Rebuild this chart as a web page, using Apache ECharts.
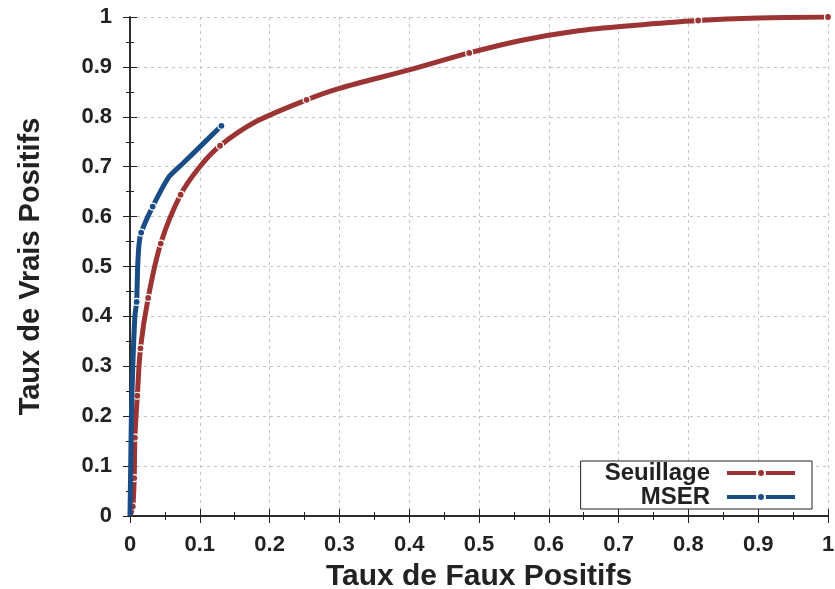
<!DOCTYPE html>
<html><head><meta charset="utf-8">
<script src="https://cdn.jsdelivr.net/npm/echarts@6/dist/echarts.min.js"></script>
<style>html,body{margin:0;padding:0;background:#fff}#c{width:835px;height:589px}</style>
</head><body><div id="c"></div>
<script>
const seuillageX = [0, 0.004, 0.006, 0.007, 0.0105, 0.015, 0.026, 0.044, 0.0725, 0.100, 0.129, 0.180, 0.253, 0.300, 0.400, 0.486, 0.560, 0.640, 0.720, 0.814, 0.900, 1.000];
const seuillageY = [0, 0.019, 0.076, 0.157, 0.241, 0.336, 0.437, 0.546, 0.644, 0.700, 0.742, 0.790, 0.834, 0.857, 0.894, 0.928, 0.953, 0.972, 0.983, 0.993, 0.998, 1.000];
const seuillageMarks = [1, 2, 3, 4, 5, 6, 7, 8, 10, 12, 15, 19, 21];
const mserX = [0, 0.001, 0.002, 0.004, 0.007, 0.0095, 0.011, 0.013, 0.016, 0.0325, 0.056, 0.076, 0.131];
const mserY = [0, 0.100, 0.200, 0.300, 0.400, 0.429, 0.500, 0.545, 0.568, 0.620, 0.680, 0.707, 0.782];
const mserMarks = [5, 8, 9, 12];
const ticks = [0, 0.1, 0.2, 0.3, 0.4, 0.5, 0.6, 0.7, 0.8, 0.9, 1];

function build(xs, ys, marks) {
  return xs.map((x, i) => marks.includes(i) ? {value: [x, ys[i]]} : {value: [x, ys[i]], symbol: 'none'});
}
const fmt = v => {
  const t = ticks.find(k => Math.abs(k - v) < 1e-9);
  return t === undefined ? '' : (t === 0 ? '0' : (t === 1 ? '1' : t.toFixed(1)));
};
const labelStyle = {fontFamily: 'Liberation Sans', fontWeight: 'bold', fontSize: 22, color: '#222'};
const axisCommon = {
  min: 0, max: 1, interval: 0.1,
  axisLine: {show: true, lineStyle: {color: '#222', width: 1.5}},
  axisTick: {show: true, inside: true, length: 7, lineStyle: {color: '#222', width: 1}},
  minorTick: {show: true, splitNumber: 2, length: -4, lineStyle: {color: '#222', width: 1}}
};
const chart = echarts.init(document.getElementById('c'));
chart.setOption({
  animation: false,
  grid: {left: 130, right: 7, top: 17, bottom: 73, containLabel: false, outerBoundsMode: 'none'},
  xAxis: [
    Object.assign({}, axisCommon, {type: 'value', position: 'bottom',
      name: 'Taux de Faux Positifs', nameLocation: 'middle', nameGap: 46,
      nameTextStyle: {fontFamily: 'Liberation Sans', fontWeight: 'bold', fontSize: 30, color: '#222'},
      axisLabel: Object.assign({margin: 18, formatter: fmt}, labelStyle),
      splitLine: {show: true, lineStyle: {color: '#c4c4c4', type: [3, 4], width: 1}}}),
    Object.assign({}, axisCommon, {type: 'value', position: 'top', axisLabel: {show: false}, splitLine: {show: false}})
  ],
  yAxis: [
    Object.assign({}, axisCommon, {type: 'value', position: 'left',
      name: 'Taux de Vrais Positifs', nameLocation: 'middle', nameGap: 85, nameRotate: 90,
      nameTextStyle: {fontFamily: 'Liberation Sans', fontWeight: 'bold', fontSize: 29, color: '#222'},
      axisLabel: Object.assign({margin: 18, formatter: fmt}, labelStyle),
      splitLine: {show: true, lineStyle: {color: '#c4c4c4', type: [3, 4], width: 1}}}),
    Object.assign({}, axisCommon, {type: 'value', position: 'right', axisLabel: {show: false}, splitLine: {show: false}})
  ],
  legend: {
    right: 23, bottom: 80, orient: 'vertical', align: 'right',
    itemWidth: 68, itemHeight: 10, itemGap: 0,
    padding: [0, 15, 0, 24],
    borderColor: '#222', borderWidth: 1, backgroundColor: '#fff',
    lineStyle: {width: 4},
    textStyle: {fontFamily: 'Liberation Sans', fontWeight: 'bold', fontSize: 24, lineHeight: 24, color: '#222', padding: [0, 12, 0, 0]},
    data: ['Seuillage', 'MSER']
  },
  series: [
    {name: 'Seuillage', type: 'line', smooth: 0.3, data: build(seuillageX, seuillageY, seuillageMarks),
     symbol: 'circle', symbolSize: 7, showAllSymbol: true,
     lineStyle: {color: '#9c3434', width: 5}, itemStyle: {color: '#9c3434', borderColor: '#fff', borderWidth: 1.2}, z: 3},
    {name: 'MSER', type: 'line', smooth: 0.2, data: build(mserX, mserY, mserMarks),
     symbol: 'circle', symbolSize: 7, showAllSymbol: true,
     lineStyle: {color: '#1a4c86', width: 5}, itemStyle: {color: '#1a4c86', borderColor: '#fff', borderWidth: 1.2}, z: 4}
  ]
});
</script></body></html>
